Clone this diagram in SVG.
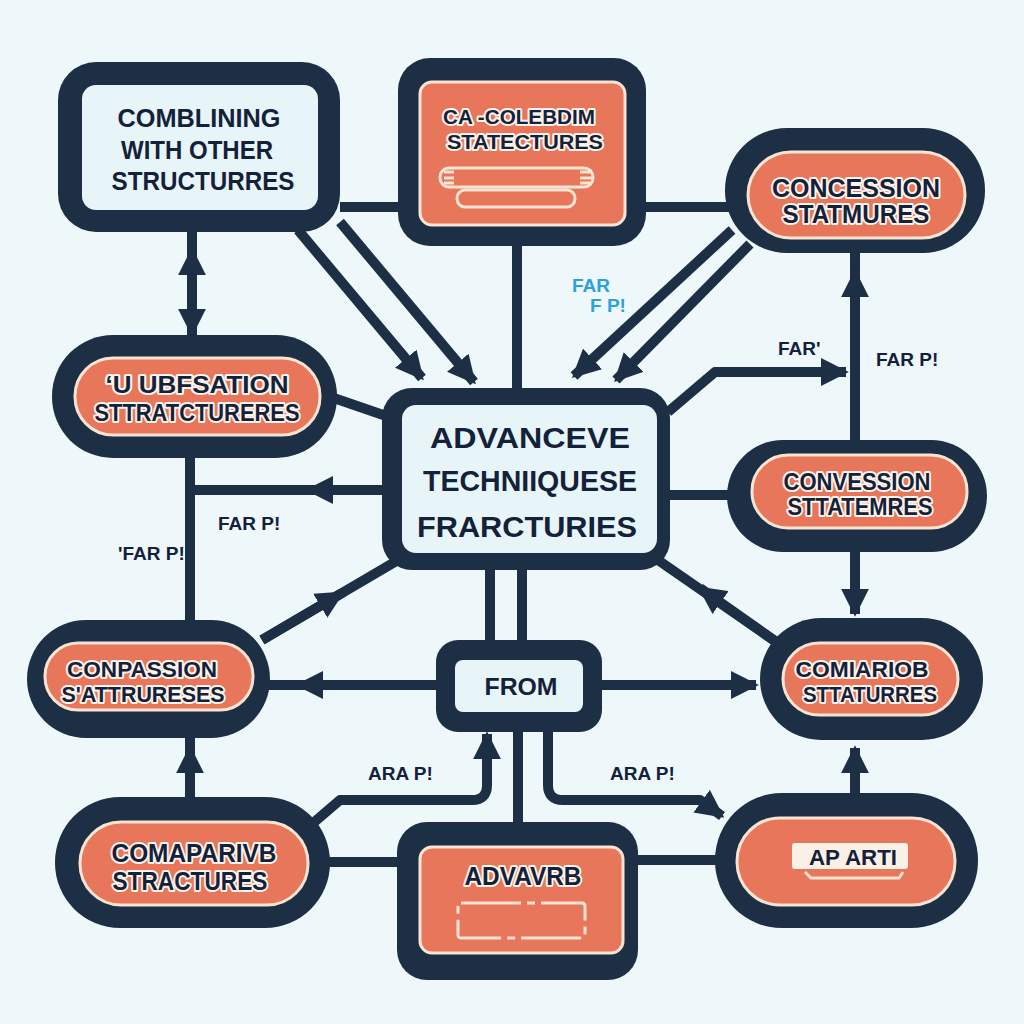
<svg xmlns="http://www.w3.org/2000/svg" width="1024" height="1024" viewBox="0 0 1024 1024">
<style>
.edge{stroke:#1d2f45;stroke-width:10;fill:none;stroke-linejoin:round}
.outer{fill:#1d2f45}
.light{fill:#e8f5f8}
.orange{fill:#e7765b;stroke:#f8e4d2;stroke-width:3}
.deco{fill:none;stroke:#f8e4d2;stroke-width:3}
.t{font-family:"Liberation Sans",Arial,sans-serif;font-weight:700;fill:#14213a;text-anchor:middle}
.halo{paint-order:stroke;stroke:#fdf4ec;stroke-width:4;stroke-linejoin:round}
.lbl{font-family:"Liberation Sans",Arial,sans-serif;font-weight:700;fill:#14213a;font-size:19px}
.cyan{fill:#2aa3dc}
</style>
<defs>
<marker id="ah" viewBox="0 0 10 10" refX="9" refY="5" markerWidth="28" markerHeight="28" markerUnits="userSpaceOnUse" orient="auto-start-reverse">
<path d="M0,0 L10,5 L0,10 z" fill="#1d2f45"/>
</marker>
</defs>
<rect width="1024" height="1024" fill="#eef8fa"/>
<g id="connectors">
<path class="edge" d="M340,207 H400"/>
<path class="edge" d="M645,207 H730"/>
<path class="edge" d="M192,232 V338"/>
<path class="edge" d="M192,290 V250" marker-end="url(#ah)"/>
<path class="edge" d="M192,290 V334" marker-end="url(#ah)"/>
<path class="edge" d="M298,230 L422,378" marker-end="url(#ah)"/>
<path class="edge" d="M340,222 L474,382" marker-end="url(#ah)"/>
<path class="edge" d="M517,245 V390"/>
<path class="edge" d="M732,230 L574,376" marker-end="url(#ah)"/>
<path class="edge" d="M750,244 L616,380" marker-end="url(#ah)"/>
<path class="edge" d="M668,412 L715,372 H846" marker-end="url(#ah)"/>
<path class="edge" d="M855,440 V250"/>
<path class="edge" d="M855,440 V272" marker-end="url(#ah)"/>
<path class="edge" d="M855,552 V614" marker-end="url(#ah)"/>
<path class="edge" d="M668,495 H737"/>
<path class="edge" d="M385,490 H188"/>
<path class="edge" d="M385,490 H308" marker-end="url(#ah)"/>
<path class="edge" d="M190,458 V622"/>
<path class="edge" d="M325,395 L392,418"/>
<path class="edge" d="M405,556 L262,640"/>
<path class="edge" d="M262,640 L342,593" marker-end="url(#ah)"/>
<path class="edge" d="M490,570 V642"/>
<path class="edge" d="M522,570 V642"/>
<path class="edge" d="M436,685 H268"/>
<path class="edge" d="M436,685 H298" marker-end="url(#ah)"/>
<path class="edge" d="M600,685 H756" marker-end="url(#ah)"/>
<path class="edge" d="M655,558 L785,648"/>
<path class="edge" d="M785,648 L700,588" marker-end="url(#ah)"/>
<path class="edge" d="M855,795 V748" marker-end="url(#ah)"/>
<path class="edge" d="M190,736 V799"/>
<path class="edge" d="M190,799 V748" marker-end="url(#ah)"/>
<path class="edge" d="M518,730 V824"/>
<path class="edge" d="M312,824 L340,800 H472 Q487,800 487,785 V734" marker-end="url(#ah)"/>
<path class="edge" d="M548,732 V785 Q548,800 563,800 H700 L722,816" marker-end="url(#ah)"/>
<path class="edge" d="M328,862 H400"/>
<path class="edge" d="M636,860 H718"/>
</g>
<g id="n-combining">
<rect class="outer" x="58" y="62" width="282" height="170" rx="38"/>
<rect class="light" x="82" y="85" width="236" height="125" rx="14"/>
<text class="t" font-size="26" x="199" y="127" textLength="163" lengthAdjust="spacingAndGlyphs">COMBLINING</text>
<text class="t" font-size="26" x="197" y="159" textLength="152" lengthAdjust="spacingAndGlyphs">WITH OTHER</text>
<text class="t" font-size="26" x="203" y="190" textLength="183" lengthAdjust="spacingAndGlyphs">STRUCTURRES</text>
</g>
<g id="n-cacolebdim">
<rect class="outer" x="398" y="58" width="248" height="188" rx="32"/>
<rect class="orange" x="420" y="82" width="205" height="143" rx="12"/>
<text class="t halo" font-size="21" x="519" y="124" textLength="152" lengthAdjust="spacingAndGlyphs">CA -COLEBDIM</text>
<text class="t halo" font-size="21" x="525" y="149" textLength="156" lengthAdjust="spacingAndGlyphs">STATECTURES</text>
<rect class="deco" x="440" y="168" width="153" height="19" rx="9"/>
<path class="deco" d="M444,172 h10 M444,178 h10 M444,183 h10 M580,172 h12 M580,178 h12 M580,183 h12"/>
<rect class="deco" x="457" y="190" width="118" height="17" rx="8"/>
</g>
<g id="n-concession">
<rect class="outer" x="725" y="128" width="260" height="125" rx="62"/>
<rect class="orange" x="748" y="152" width="217" height="86" rx="43"/>
<text class="t halo" font-size="25" x="856" y="197" textLength="168" lengthAdjust="spacingAndGlyphs">CONCESSION</text>
<text class="t halo" font-size="25" x="856" y="223" textLength="147" lengthAdjust="spacingAndGlyphs">STATMURES</text>
</g>
<g id="n-ubfsation">
<rect class="outer" x="52" y="335" width="285" height="123" rx="61"/>
<rect class="orange" x="75" y="358" width="245" height="77" rx="38"/>
<text class="t halo" font-size="23" x="197" y="393" textLength="183" lengthAdjust="spacingAndGlyphs">ʻU UBFSATION</text>
<text class="t halo" font-size="23" x="197" y="421" textLength="205" lengthAdjust="spacingAndGlyphs">STTRATCTURERES</text>
</g>
<g id="n-center">
<rect class="outer" x="382" y="388" width="288" height="182" rx="30"/>
<rect class="light" x="402" y="405" width="255" height="148" rx="14"/>
<text class="t" font-size="29" x="530" y="448" textLength="200" lengthAdjust="spacingAndGlyphs">ADVANCEVE</text>
<text class="t" font-size="29" x="530" y="491" textLength="214" lengthAdjust="spacingAndGlyphs">TECHNIIQUESE</text>
<text class="t" font-size="29" x="527" y="537" textLength="220" lengthAdjust="spacingAndGlyphs">FRARCTURIES</text>
</g>
<g id="n-convession">
<rect class="outer" x="727" y="440" width="260" height="112" rx="56"/>
<rect class="orange" x="752" y="455" width="215" height="73" rx="36"/>
<text class="t halo" font-size="23" x="857" y="490" textLength="147" lengthAdjust="spacingAndGlyphs">CONVESSION</text>
<text class="t halo" font-size="23" x="860" y="515" textLength="145" lengthAdjust="spacingAndGlyphs">STTATEMRES</text>
</g>
<g id="n-conpassion">
<rect class="outer" x="27" y="620" width="243" height="118" rx="59"/>
<rect class="orange" x="45" y="643" width="208" height="67" rx="33"/>
<text class="t halo" font-size="22" x="142" y="677" textLength="150" lengthAdjust="spacingAndGlyphs">CONPASSION</text>
<text class="t halo" font-size="22" x="143" y="702" textLength="163" lengthAdjust="spacingAndGlyphs">S'ATTRURESES</text>
</g>
<g id="n-comiariob">
<rect class="outer" x="760" y="618" width="223" height="122" rx="61"/>
<rect class="orange" x="783" y="643" width="175" height="72" rx="36"/>
<text class="t halo" font-size="22" x="862" y="677" textLength="133" lengthAdjust="spacingAndGlyphs">COMIARIOB</text>
<text class="t halo" font-size="22" x="870" y="702" textLength="134" lengthAdjust="spacingAndGlyphs">STTATURRES</text>
</g>
<g id="n-from">
<rect class="outer" x="436" y="640" width="166" height="92" rx="22"/>
<rect class="light" x="455" y="660" width="128" height="52" rx="8"/>
<text class="t" font-size="24" x="521" y="695" textLength="73" lengthAdjust="spacingAndGlyphs">FROM</text>
</g>
<g id="n-comaparivb">
<rect class="outer" x="55" y="797" width="275" height="131" rx="65"/>
<rect class="orange" x="80" y="822" width="228" height="83" rx="41"/>
<text class="t halo" font-size="25" x="194" y="862" textLength="165" lengthAdjust="spacingAndGlyphs">COMAPARIVB</text>
<text class="t halo" font-size="25" x="190" y="890" textLength="155" lengthAdjust="spacingAndGlyphs">STRACTURES</text>
</g>
<g id="n-advavrb">
<rect class="outer" x="397" y="822" width="241" height="158" rx="30"/>
<rect class="orange" x="420" y="847" width="203" height="106" rx="12"/>
<text class="t halo" font-size="25" x="523" y="885" textLength="117" lengthAdjust="spacingAndGlyphs">ADVAVRB</text>
<rect class="deco" x="458" y="903" width="127" height="35" rx="3" stroke-dasharray="60 6 8 6"/>
</g>
<g id="n-aparti">
<rect class="outer" x="715" y="793" width="263" height="135" rx="67"/>
<rect class="orange" x="737" y="818" width="218" height="87" rx="43"/>
<rect x="792" y="843" width="116" height="26" rx="3" fill="#fbf0e6"/>
<path class="deco" d="M805,872 l6,6 h88 l4,-6"/>
<text class="t" font-size="22" x="853" y="865" textLength="88" lengthAdjust="spacingAndGlyphs">AP ARTI</text>
</g>
<g id="labels">
<text class="lbl cyan" x="572" y="292" font-size="19">FAR</text>
<text class="lbl cyan" x="590" y="312" font-size="13">F P!</text>
<text class="lbl" x="778" y="355">FAR'</text>
<text class="lbl" x="876" y="366">FAR P!</text>
<text class="lbl" x="218" y="530">FAR P!</text>
<text class="lbl" x="118" y="560">'FAR P!</text>
<text class="lbl" x="368" y="780">ARA P!</text>
<text class="lbl" x="610" y="780">ARA P!</text>
</g>
</svg>
